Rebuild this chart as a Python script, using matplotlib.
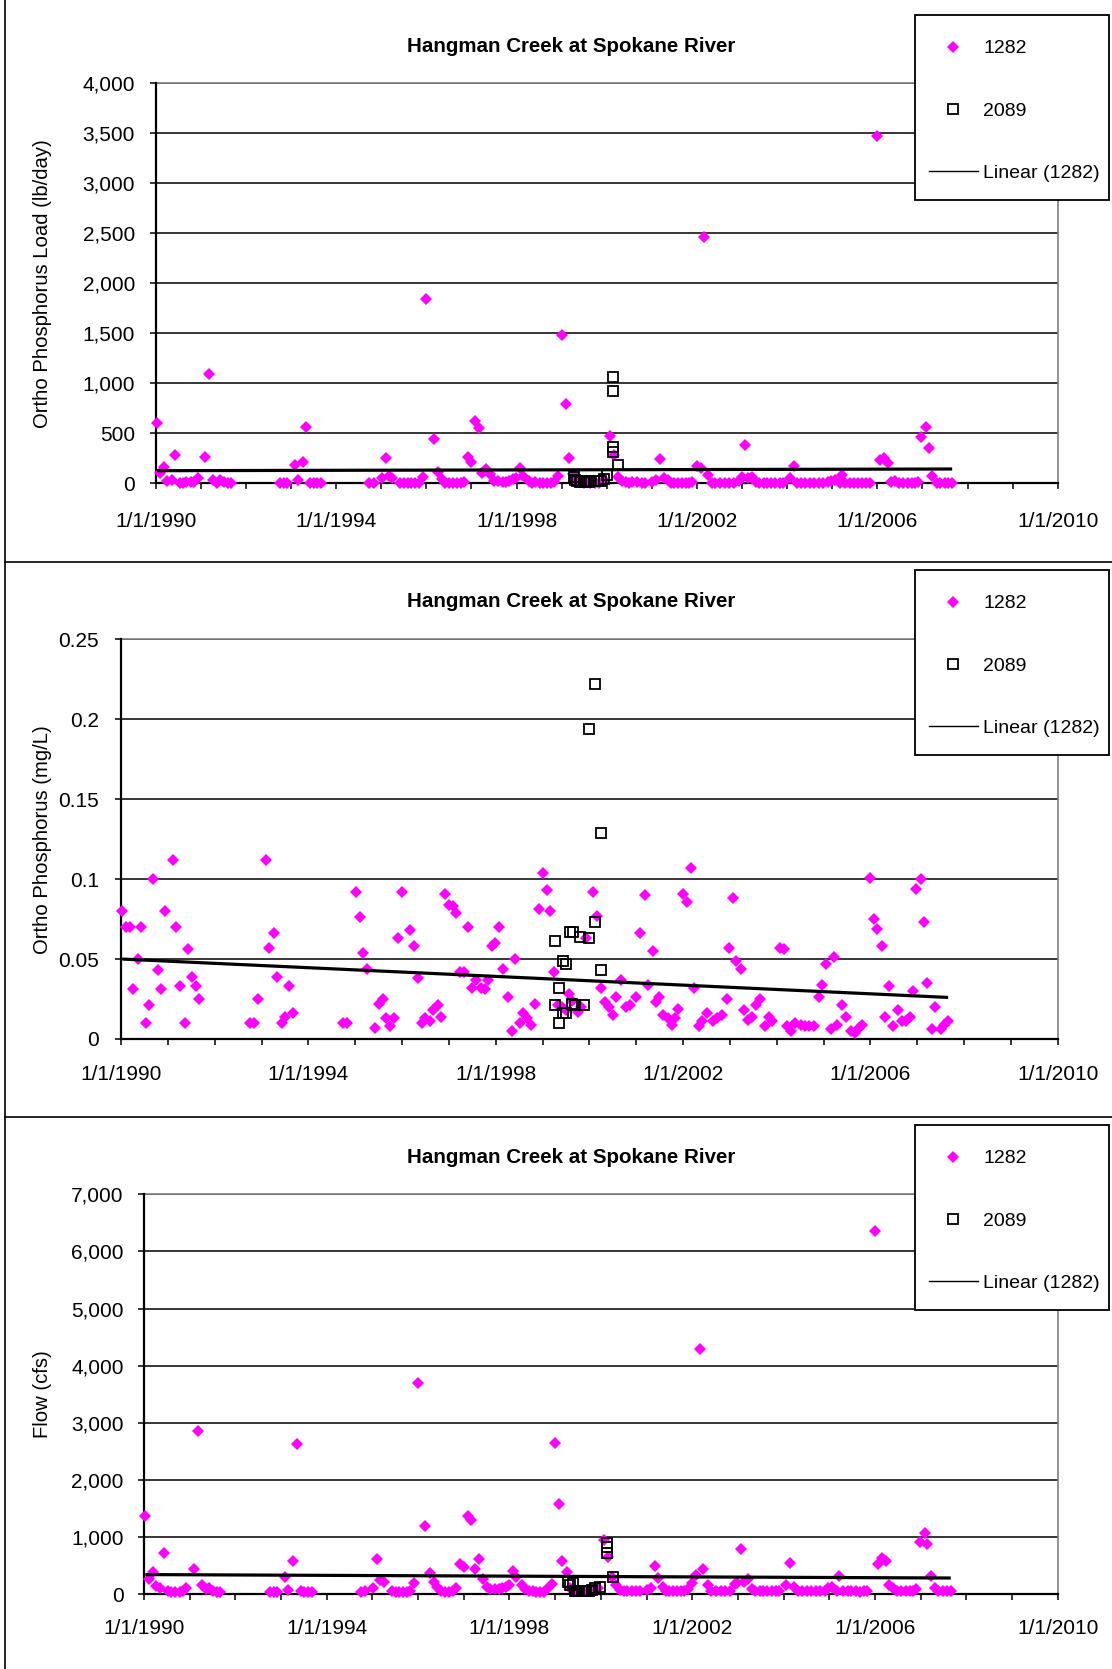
import matplotlib
matplotlib.use("Agg")
import matplotlib.pyplot as plt
from matplotlib.ticker import FuncFormatter
from matplotlib.lines import Line2D
from matplotlib.patches import Rectangle

plt.rcParams['font.family'] = ['Liberation Sans', 'DejaVu Sans']

# ---------------- data ----------------
title = "Hangman Creek at Spokane River"
label_1282 = "1282"
label_2089 = "2089"
label_trend = "Linear (1282)"
x_tick_years = [1990, 1994, 1998, 2002, 2006, 2010]
x_tick_labels = ["1/1/1990", "1/1/1994", "1/1/1998", "1/1/2002", "1/1/2006", "1/1/2010"]

# station 1282 sampling dates (decimal years)
dates_1282 = [
    1990.03, 1990.10, 1990.19, 1990.26, 1990.36, 1990.43, 1990.53, 1990.60, 1990.68, 1990.78,
    1990.85, 1990.93, 1991.10, 1991.18, 1991.26, 1991.36, 1991.42, 1991.52, 1991.60, 1991.67,
    1992.75, 1992.84, 1992.92, 1993.09, 1993.16, 1993.26, 1993.34, 1993.43, 1993.50, 1993.58,
    1993.67,
    1994.74, 1994.83, 1995.01, 1995.10, 1995.17, 1995.25, 1995.42, 1995.51, 1995.59, 1995.66,
    1995.75, 1995.83, 1995.92, 1996.00, 1996.16, 1996.25, 1996.34, 1996.42, 1996.50, 1996.59,
    1996.67, 1996.76, 1996.84, 1996.92, 1997.00, 1997.09, 1997.16, 1997.24, 1997.33, 1997.41,
    1997.50, 1997.58, 1997.69, 1997.77, 1997.83, 1997.92, 1997.99, 1998.08, 1998.15, 1998.27,
    1998.34, 1998.42, 1998.51, 1998.58, 1998.67, 1998.76, 1998.83, 1998.92, 1999.00, 1999.09,
    1999.16, 1999.25, 1999.33, 1999.42, 1999.50, 1999.57, 1999.64, 1999.75, 1999.83, 1999.93,
    2000.07, 2000.16, 2000.24, 2000.34, 2000.43, 2000.50, 2000.57, 2000.68, 2000.78, 2000.86,
    2001.00, 2001.09, 2001.18, 2001.26, 2001.35, 2001.42, 2001.49, 2001.58, 2001.67, 2001.76,
    2001.83, 2001.90, 2002.00, 2002.08, 2002.16, 2002.24, 2002.34, 2002.41, 2002.52, 2002.63,
    2002.72, 2002.83, 2002.94, 2002.99, 2003.07, 2003.14, 2003.23, 2003.30, 2003.38, 2003.48,
    2003.55, 2003.64, 2003.74, 2003.84, 2003.91, 2004.06, 2004.15, 2004.23, 2004.31, 2004.40,
    2004.51, 2004.60, 2004.70, 2004.80, 2004.90, 2004.97, 2005.06, 2005.17, 2005.22, 2005.29,
    2005.40, 2005.48, 2005.58, 2005.67, 2005.76, 2005.83, 2005.99, 2006.07, 2006.15, 2006.24,
    2006.31, 2006.40, 2006.49, 2006.58, 2006.68, 2006.76, 2006.84, 2006.90, 2006.98, 2007.09,
    2007.15, 2007.22, 2007.32, 2007.39, 2007.50, 2007.57, 2007.66,
]

# ortho phosphorus load (lb/day), station 1282
load_1282 = [
    600, 100, 160, 25, 30, 280, 5, 5, 15, 10,
    10, 50, 260, 1090, 30, 5, 30, 10, 5, 5,
    3, 3, 5, 183, 30, 216, 560, 3, 3, 5,
    3,
    2, 3, 52, 256, 71, 51, 2, 4, 4, 2,
    1, 3, 67, 1840, 440, 113, 42, 7, 3, 2,
    3, 5, 8, 260, 216, 626, 556, 98, 140, 97,
    20, 18, 14, 14, 21, 41, 51, 150, 72, 22,
    2, 16, 3, 3, 2, 1, 10, 76, 1480, 795,
    255, 89, 11, 8, 6, 8, 6, 5, 6, 34,
    473, 283, 60, 20, 8, 5, 8, 11, 5, 6,
    10, 37, 243, 50, 34, 7, 7, 4, 3, 2,
    4, 9, 170, 150, 2460, 83, 6, 4, 4, 3,
    3, 4, 23, 60, 383, 55, 62, 9, 4, 4,
    6, 7, 2, 4, 3, 51, 173, 5, 2, 3,
    2, 2, 2, 2, 8, 18, 30, 2, 83, 3,
    6, 3, 1, 1, 2, 2, 3472, 233, 250, 200,
    11, 18, 3, 5, 3, 3, 4, 13, 466, 566,
    356, 73, 3, 6, 2, 2, 3,
]

# ortho phosphorus concentration (mg/L), station 1282
conc_1282 = [
    0.080, 0.070, 0.070, 0.031, 0.050, 0.070, 0.010, 0.021, 0.100, 0.043,
    0.031, 0.080, 0.112, 0.070, 0.033, 0.010, 0.056, 0.039, 0.033, 0.025,
    0.010, 0.010, 0.025, 0.112, 0.057, 0.066, 0.039, 0.010, 0.014, 0.033,
    0.016,
    0.010, 0.010, 0.092, 0.076, 0.054, 0.044, 0.007, 0.022, 0.025, 0.013,
    0.008, 0.013, 0.063, 0.092, 0.068, 0.058, 0.038, 0.010, 0.013, 0.011,
    0.018, 0.021, 0.014, 0.091, 0.084, 0.083, 0.079, 0.042, 0.042, 0.070,
    0.032, 0.037, 0.032, 0.031, 0.037, 0.058, 0.060, 0.070, 0.044, 0.026,
    0.005, 0.050, 0.010, 0.016, 0.013, 0.009, 0.022, 0.081, 0.104, 0.093,
    0.080, 0.042, 0.021, 0.020, 0.018, 0.028, 0.024, 0.017, 0.020, 0.063,
    0.092, 0.077, 0.032, 0.023, 0.020, 0.015, 0.026, 0.037, 0.020, 0.021,
    0.026, 0.066, 0.090, 0.034, 0.055, 0.023, 0.026, 0.015, 0.013, 0.009,
    0.013, 0.019, 0.091, 0.086, 0.107, 0.032, 0.008, 0.011, 0.016, 0.011,
    0.013, 0.015, 0.025, 0.057, 0.088, 0.049, 0.044, 0.018, 0.012, 0.014,
    0.021, 0.025, 0.008, 0.014, 0.011, 0.057, 0.056, 0.008, 0.005, 0.010,
    0.009, 0.008, 0.008, 0.008, 0.026, 0.034, 0.047, 0.006, 0.051, 0.009,
    0.021, 0.014, 0.005, 0.004, 0.007, 0.009, 0.101, 0.075, 0.069, 0.058,
    0.014, 0.033, 0.008, 0.018, 0.011, 0.011, 0.014, 0.030, 0.094, 0.100,
    0.073, 0.035, 0.006, 0.020, 0.006, 0.009, 0.011,
]

# flow (cfs), station 1282
flow_1282 = [
    1371, 256, 391, 140, 105, 723, 47, 30, 30, 30,
    47, 105, 438, 2860, 158, 82, 105, 47, 30, 30,
    30, 30, 40, 292, 70, 583, 2621, 47, 30, 30,
    30,
    30, 47, 105, 607, 245, 216, 53, 30, 30, 30,
    30, 47, 198, 3700, 1191, 362, 204, 123, 47, 30,
    30, 47, 105, 525, 467, 1365, 1295, 432, 607, 257,
    117, 90, 82, 82, 105, 130, 158, 409, 304, 158,
    82, 60, 47, 30, 30, 30, 82, 175, 2638, 1581,
    583, 391, 100, 70, 60, 55, 50, 50, 60, 100,
    950, 653, 300, 157, 70, 60, 55, 55, 50, 55,
    70, 105, 490, 274, 114, 60, 50, 45, 45, 45,
    60, 90, 200, 333, 4284, 437, 150, 60, 50, 45,
    45, 55, 170, 200, 788, 210, 263, 90, 55, 50,
    50, 50, 45, 50, 55, 165, 537, 120, 60, 50,
    45, 45, 50, 50, 60, 100, 120, 60, 315, 60,
    50, 45, 45, 40, 45, 50, 6362, 525, 624, 583,
    150, 100, 60, 50, 45, 45, 50, 80, 916, 1060,
    881, 315, 100, 60, 50, 45, 45,
]

# station 2089 (each panel read separately)
dates_2089_load = [1999.27, 1999.30, 1999.35, 1999.40, 1999.44, 1999.50, 1999.55, 1999.60,
                   1999.66, 1999.72, 1999.80, 1999.88, 1999.95, 2000.00, 2000.13, 2000.13,
                   2000.13, 2000.13, 2000.26]
load_2089 = [60, 30, 25, 15, 20, 10, 15, 15, 20, 20, 25, 25, 40, 85, 1066, 923, 366, 316, 183]

dates_2089_conc = [1999.27, 1999.27, 1999.35, 1999.35, 1999.44, 1999.44, 1999.51, 1999.51,
                   1999.59, 1999.62, 1999.66, 1999.69, 1999.81, 1999.88, 2000.00, 2000.00,
                   2000.12, 2000.13, 2000.25, 2000.25]
conc_2089 = [0.061, 0.021, 0.032, 0.010, 0.049, 0.016, 0.047, 0.016, 0.067, 0.022,
             0.067, 0.021, 0.064, 0.021, 0.063, 0.194, 0.222, 0.073, 0.129, 0.043]

dates_2089_flow = [1999.29, 1999.33, 1999.38, 1999.43, 1999.48, 1999.53, 1999.58, 1999.63,
                   1999.68, 1999.73, 1999.80, 1999.87, 1999.98, 2000.13, 2000.13, 2000.13,
                   2000.26]
flow_2089 = [216, 150, 187, 60, 58, 55, 55, 55, 58, 60, 70, 99, 117, 900, 815, 725, 305]

# linear trend lines for 1282 (values read at the ends of the fitted line)
trend_years = [1990.03, 2007.66]
trend_load = [126, 143]
trend_conc = [0.050, 0.026]
trend_flow = [340, 280]

# ---------------- figure ----------------
W, H = 1112, 1669
fig = plt.figure(figsize=(W / 100, H / 100), dpi=100)
PINK = "#FF00FF"
FS = 15


def fx(px):
    return px / W


def fy(py):
    return 1 - py / H


panels = [
    dict(rect=(155.7, 83.3, 1057.7, 483.3), x1=dates_1282, y1=load_1282,
         x2=dates_2089_load, y2=load_2089, ty=trend_load,
         ymax=4000, ystep=500, fmt=lambda v, p: f"{v:,.0f}",
         ylabel="Ortho Phosphorus Load (lb/day)", title_y=46.0, leg_top=15,
         ylab_pad=10.4, xlab_pad=16.2),
    dict(rect=(121.0, 639.3, 1057.7, 1039.0), x1=dates_1282, y1=conc_1282,
         x2=dates_2089_conc, y2=conc_2089, ty=trend_conc,
         ymax=0.25, ystep=0.05, fmt=lambda v, p: f"{round(v, 2):g}",
         ylabel="Ortho Phosphorus (mg/L)", title_y=601.5, leg_top=570,
         ylab_pad=11.2, xlab_pad=14.5),
    dict(rect=(144.0, 1194.3, 1057.7, 1594.0), x1=dates_1282, y1=flow_1282,
         x2=dates_2089_flow, y2=flow_2089, ty=trend_flow,
         ymax=7000, ystep=1000, fmt=lambda v, p: f"{v:,.0f}",
         ylabel="Flow (cfs)", title_y=1157.0, leg_top=1125,
         ylab_pad=10.0, xlab_pad=13.5),
]

for p in panels:
    l, t, r, b = p["rect"]
    ax = fig.add_axes([fx(l), fy(b), fx(r - l), (b - t) / H])
    h1, = ax.plot(p["x1"], p["y1"], ls="none", marker="D", ms=5.8, color=PINK,
                  mec=PINK, mew=0, clip_on=False, zorder=3, label=label_1282)
    h2, = ax.plot(p["x2"], p["y2"], ls="none", marker="s", ms=6.6, mfc="none",
                  mec="black", mew=1.3, clip_on=False, zorder=4, label=label_2089)
    ax.plot(trend_years, p["ty"], color="black", lw=2.3, zorder=5, solid_capstyle="butt")

    ax.set_xlim(1990, 2010)
    ax.set_ylim(0, p["ymax"])
    ax.set_xticks(x_tick_years)
    ax.set_xticklabels(x_tick_labels)
    ax.set_xticks(list(range(1990, 2011)), minor=True)
    n = int(round(p["ymax"] / p["ystep"]))
    ax.set_yticks([i * p["ystep"] for i in range(n + 1)])
    ax.yaxis.set_major_formatter(FuncFormatter(p["fmt"]))
    ax.tick_params(axis="x", which="both", direction="out", length=4.5, width=1.1,
                   color="black", labelsize=FS, pad=p["xlab_pad"])
    ax.tick_params(axis="y", which="both", direction="out", length=4.5, width=1.1,
                   color="black", labelsize=FS, pad=p["ylab_pad"])
    ax.grid(axis="y", color="black", lw=1.1)
    ax.set_axisbelow(True)
    for s in ("top", "right"):
        ax.spines[s].set_color("#808080")
        ax.spines[s].set_linewidth(1.2)
    for s in ("left", "bottom"):
        ax.spines[s].set_color("black")
        ax.spines[s].set_linewidth(1.6)
        ax.spines[s].set_zorder(2.6)

    fig.text(fx(571.4), fy(p["title_y"]), title, ha="center", va="center",
             fontsize=14.8, fontweight="bold")
    fig.text(fx(42.5), fy((t + b) / 2), p["ylabel"], ha="center", va="center",
             rotation=90, fontsize=14.6)

    # legend box (drawn above the axes) and legend entries
    lt = p["leg_top"]
    fig.add_artist(Rectangle((fx(915), fy(lt + 185)), fx(194), 185 / H,
                             transform=fig.transFigure, facecolor="white",
                             edgecolor="black", lw=1.3, zorder=8))
    trend_handle = Line2D([], [], color="black", lw=1.0)
    leg = fig.legend([h1, h2, trend_handle], [label_1282, label_2089, label_trend],
                     loc="upper left", bbox_to_anchor=(fx(929), fy(lt + 24.7)),
                     bbox_transform=fig.transFigure, borderaxespad=0, borderpad=0,
                     frameon=False, fontsize=14, handlelength=2.5, handletextpad=0.3,
                     labelspacing=2.3, numpoints=1)
    leg.set_zorder(9)

# outer frame lines
frame_kw = dict(color="black", lw=1.2, transform=fig.transFigure)
fig.add_artist(Line2D([fx(5), fx(5)], [0, 1], **frame_kw))
fig.add_artist(Line2D([fx(5), 1], [fy(562), fy(562)], **frame_kw))
fig.add_artist(Line2D([fx(5), 1], [fy(1117), fy(1117)], **frame_kw))

fig.savefig("out.png", dpi=100)
